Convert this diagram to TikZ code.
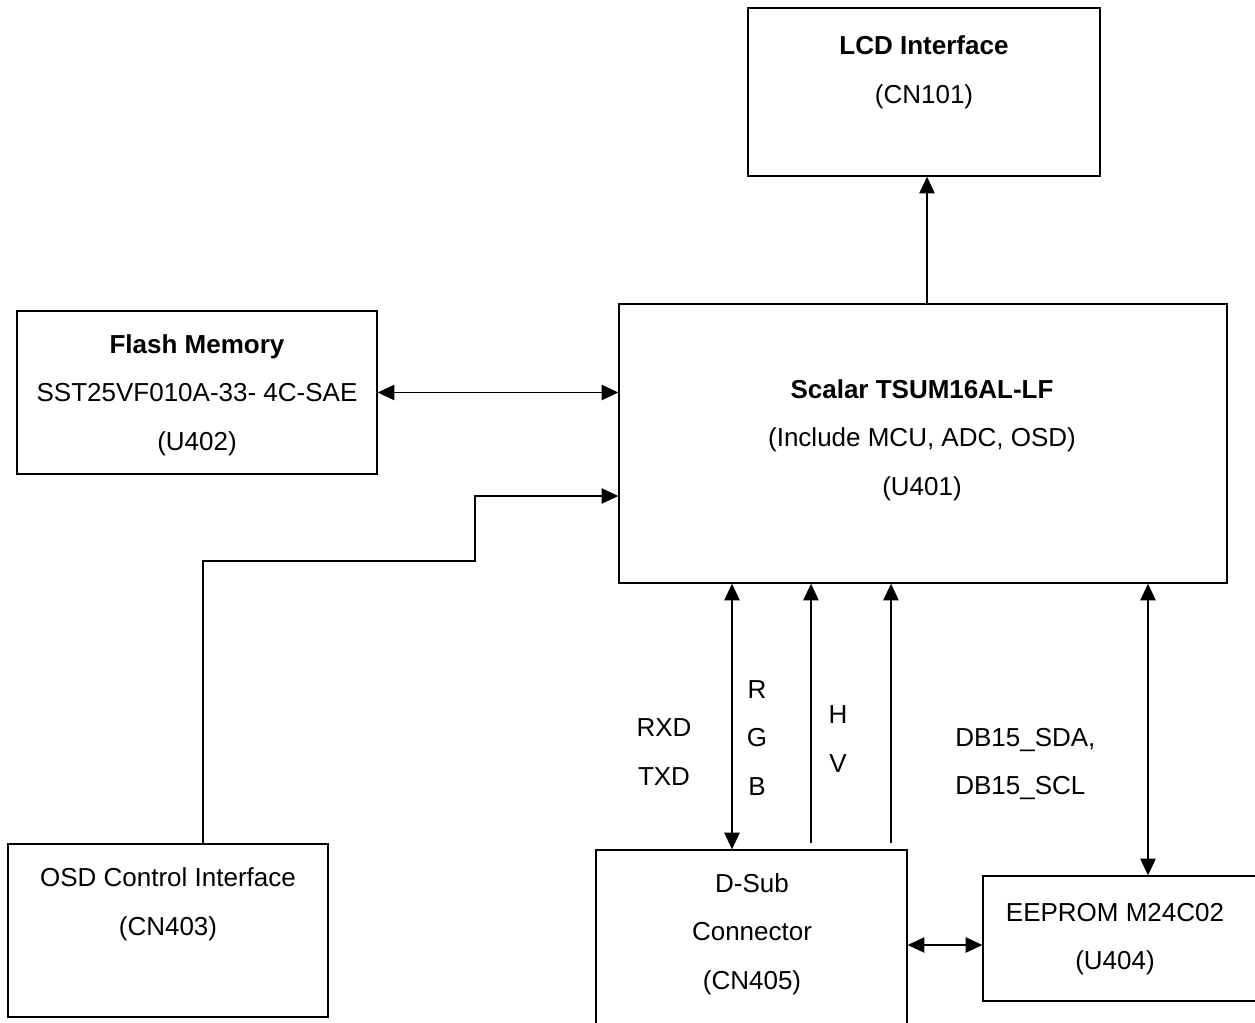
\documentclass[tikz,border=0pt]{standalone}
\usepackage{fontspec}
\setmainfont{Liberation Sans}
\usetikzlibrary{arrows.meta,positioning,calc,fit}

\begin{document}
\begin{tikzpicture}[x=0.75pt, y=-0.75pt, >={Triangle[length=12.5pt, width=11.5pt]},
    blk/.style={draw, line width=1pt, inner sep=0pt},
    lbl/.style={align=center, inner sep=0pt, font=\fontsize{19.5}{36.5}\selectfont},
    wire/.style={line width=0.9pt}]
\useasboundingbox (0,0) rectangle (1255,1023);
\clip (0,0) rectangle (1255,1023);

% blocks
\node[blk, fit={(748,8) (1100,176)}] (lcd) {};
\node[blk, fit={(619,304) (1227,583)}] (scalar) {};
\node[blk, fit={(17,311) (377,474)}] (flash) {};
\node[blk, fit={(8,844) (328,1017)}] (osd) {};
\node[blk, fit={(596,850) (907,1040)}] (dsub) {};
\node[blk, fit={(983,876) (1270,1001)}] (eeprom) {};

% block texts
\node[lbl] (lcdtxt) at (924,72) {\textbf{LCD Interface}\\(CN101)};
\node[lbl] (scalartxt) at (922,440) {\textbf{Scalar TSUM16AL-LF}\\(Include MCU, ADC, OSD)\\(U401)};
\node[lbl] (flashtxt) at (197,395) {\textbf{Flash Memory}\\SST25VF010A-33- 4C-SAE\\(U402)};
\node[lbl] (osdtxt) at (168,904) {OSD Control Interface\\(CN403)};
\node[lbl] (dsubtxt) at (752,934) {D-Sub\\Connector\\(CN405)};
\node[lbl] (eepromtxt) at (1115,939) {EEPROM M24C02\\(U404)};

% connectors
\draw[wire, ->] (scalar.north -| 927,0) -- (lcd.south -| 927,0);
\draw[wire, <->] (flash.east) -- (flash.east -| scalar.west);
\draw[wire, ->] (osd.north -| 203,0) |- (475,561) |- (scalar.west |- 0,496);
\draw[wire, <->] (scalar.south -| 732,0) -- (dsub.north -| 732,0);
\foreach \cx in {811,891}
  \draw[wire, ->, shorten <=4.5pt] (dsub.north -| \cx,0) -- (scalar.south -| \cx,0);
\draw[wire, <->] (scalar.south -| 1148,0) -- (eeprom.north -| 1148,0);
\draw[wire, <->] (dsub.east |- 0,945) -- (eeprom.west |- 0,945);

% signal names
\node[lbl] (rxtx) at (664,752) {RXD\\TXD};
\node[lbl] (rgb) at (757,738) {R\\G\\B};
\node[lbl] (hv) at (838,739) {H\\V};
\node[lbl, anchor=west, align=left] (ddc) at (955,764) {DB15\_SDA,\\DB15\_SCL};
\end{tikzpicture}
\end{document}
